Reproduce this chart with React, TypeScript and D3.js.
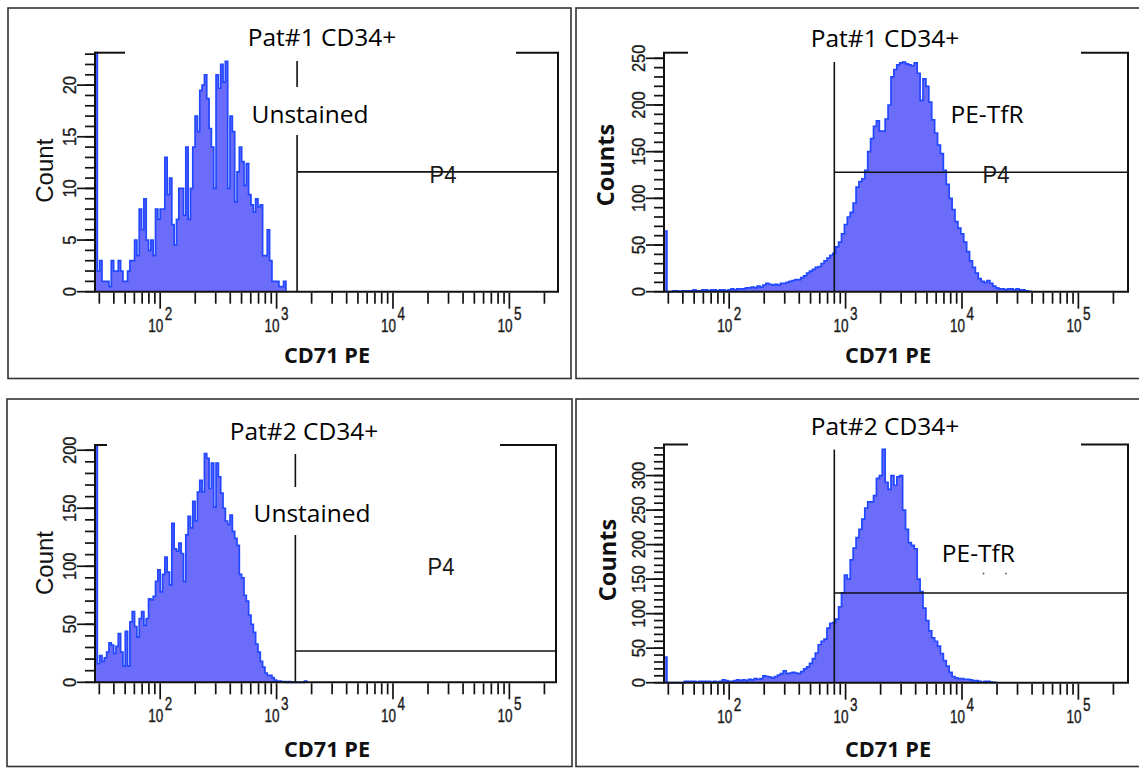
import React from "react";
import * as d3 from "d3";

// ---------- data ----------
const X_EXPONENTS = [2, 3, 4, 5];
const X_MANTISSAS = [1, 2, 3, 4, 5, 6, 7, 8, 9];
const X_DECADES = [1, 2, 3, 4, 5];
const LOG_START = 1.44; // log10 of the axis minimum
const PX_PER_DECADE = 116.4;

const P1_BIN = 0.02;
const P1_COUNTS = [40, 2, 3, 1, 1, 1, 0.5, 3, 2, 2, 3, 2, 1, 1, 2, 3, 3, 5, 3.5, 8, 6, 9, 5, 4, 5, 3.5, 8, 7, 8, 8, 13, 9.4, 11, 6.5, 4.5, 7, 10, 10, 7.4, 14, 7, 10, 14, 17, 15.5, 19.5, 20, 21, 18.7, 15.8, 14, 10, 21, 19.7, 22, 20.3, 22.3, 10, 17, 15.5, 8.7, 11.6, 14, 12.6, 10.3, 12.4, 9.4, 8.4, 7.7, 9, 8.2, 8.4, 3.5, 3.5, 6, 3, 1, 1, 1, 0.5, 0.5, 1];

const P2_BIN = 0.025;
const P2_COUNTS = [65, 0, 0, 1, 1, 0, 1, 1, 1, 1, 2, 1, 1, 2, 2, 1, 2, 2, 1, 2, 2, 1, 2, 3, 2, 3, 3, 3, 4, 4, 5, 4, 6, 5, 7, 9, 8, 7, 8, 7, 9, 9, 10, 11, 12, 13, 13, 15, 17, 20, 22, 24, 26, 27, 30, 33, 36, 39, 41, 48, 53, 62, 72, 80, 85, 95, 112, 118, 121, 130, 150, 164, 177, 183, 172, 172, 185, 200, 230, 238, 243, 245, 246, 244, 243, 242, 245, 234, 205, 228, 220, 203, 184, 170, 157, 148, 130, 115, 100, 88, 75, 68, 62, 53, 43, 33, 26, 20, 14, 11, 10, 12, 9, 6, 4, 3, 3, 2, 3, 3, 2, 3, 2, 2, 1, 0.5];

const P3_BIN = 0.02;
const P3_COUNTS = [300, 16, 23, 18, 21, 26, 34, 32, 25, 31, 42, 26, 14, 44, 14, 52, 61, 48, 39, 55, 61, 49, 55, 72, 71, 74, 87, 97, 78, 93, 108, 95, 84, 137, 115, 113, 120, 111, 87, 127, 143, 133, 156, 139, 164, 174, 164, 197, 193, 167, 189, 151, 189, 177, 163, 150, 139, 136, 144, 130, 124, 118, 93, 90, 75, 70, 58, 50, 43, 33, 26, 18, 13, 8, 6, 6, 4, 2, 1, 1, 0.5, 0.5, 0, 0.5, 0, 0, 0, 0, 0, 0, 1];

const P4_BIN = 0.025;
const P4_COUNTS = [37, 0, 0, 0, 0, 0, 0, 2, 2, 2, 2, 1, 2, 2, 2, 2, 1, 2, 1, 2, 4, 3, 2, 2, 3, 4, 3, 4, 3, 5, 4, 6, 5, 6, 10, 9, 8, 7, 9, 11, 13, 17, 13, 14, 15, 14, 13, 16, 20, 23, 28, 35, 43, 55, 60, 63, 79, 86, 87, 92, 110, 130, 156, 150, 178, 195, 210, 222, 237, 253, 262, 262, 271, 296, 300, 338, 290, 280, 300, 286, 298, 300, 250, 222, 203, 199, 194, 150, 132, 108, 90, 75, 65, 60, 53, 42, 32, 24, 15, 9, 7, 6, 6, 5, 5, 4, 3, 3, 2, 1, 2, 2, 1, 0.5];

const P1_Y_MAJOR = [0, 5, 10, 15, 20];
const P2_Y_MAJOR = [0, 50, 100, 150, 200, 250];
const P3_Y_MAJOR = [0, 50, 100, 150, 200];
const P4_Y_MAJOR = [0, 50, 100, 150, 200, 250, 300];

const TITLES = ["Pat#1 CD34+", "Pat#1 CD34+", "Pat#2 CD34+", "Pat#2 CD34+"];
const Y_LABELS = ["Count", "Counts", "Count", "Counts"];
const X_LABEL = "CD71 PE";
const SAMPLE_LABELS = ["Unstained", "PE-TfR", "Unstained", "PE-TfR"];
const GATE_NAME = "P4";
const GATE_X = [1500, 800, 1450, 800];
const GATE_Y = [11.6, 128, 27, 130];

// ---------- layout ----------
type Spec = {
  box: [number, number, number, number];
  left: number; right: number; top: number; bottom: number;
  yMax: number; yMajor: number[]; yMinorStep: number; yMinorMax: number;
  counts: number[]; binW: number;
  title: string; titleX: number; titleY: number;
  yLabel: string; yBold: boolean; yLabelX: number; yLabelY: number;
  xLabelX: number; xLabelY: number;
  bracketL: number; bracketR: number;
  gateX: number; gateY: number; gateTop: number; gateGap: [number, number] | null;
  sample: string; sampleX: number; sampleY: number;
  p4: [number, number] | null;
  dots: [number, number][];
};

const SPECS: Spec[] = [
  {
    box: [8, 8, 571, 378.5], left: 95, right: 558, top: 52.7, bottom: 291.7,
    yMax: 23.14, yMajor: P1_Y_MAJOR, yMinorStep: 1, yMinorMax: 23,
    counts: P1_COUNTS, binW: P1_BIN,
    title: TITLES[0], titleX: 322, titleY: 45.7,
    yLabel: Y_LABELS[0], yBold: false, yLabelX: 52.7, yLabelY: 170.7,
    xLabelX: 327, xLabelY: 363.3, bracketL: 125, bracketR: 516,
    gateX: GATE_X[0], gateY: GATE_Y[0], gateTop: 61, gateGap: [87, 135],
    sample: SAMPLE_LABELS[0], sampleX: 310, sampleY: 123.3,
    p4: [443, 183.3], dots: [],
  },
  {
    box: [576, 8, 1142, 378.5], left: 664, right: 1128, top: 52.7, bottom: 291.7,
    yMax: 256, yMajor: P2_Y_MAJOR, yMinorStep: 10, yMinorMax: 250,
    counts: P2_COUNTS, binW: P2_BIN,
    title: TITLES[1], titleX: 885, titleY: 46.7,
    yLabel: Y_LABELS[1], yBold: true, yLabelX: 613.6, yLabelY: 165,
    xLabelX: 888, xLabelY: 363, bracketL: 688, bracketR: 1081,
    gateX: GATE_X[1], gateY: GATE_Y[1], gateTop: 62, gateGap: null,
    sample: SAMPLE_LABELS[1], sampleX: 987, sampleY: 122.7,
    p4: [996, 183], dots: [],
  },
  {
    box: [7, 399, 572, 766.5], left: 95, right: 556, top: 445, bottom: 682.3,
    yMax: 204.5, yMajor: P3_Y_MAJOR, yMinorStep: 10, yMinorMax: 200,
    counts: P3_COUNTS, binW: P3_BIN,
    title: TITLES[2], titleX: 304, titleY: 440,
    yLabel: Y_LABELS[2], yBold: false, yLabelX: 52.7, yLabelY: 563,
    xLabelX: 327, xLabelY: 756.7, bracketL: 107, bracketR: 500,
    gateX: GATE_X[2], gateY: GATE_Y[2], gateTop: 454, gateGap: [487, 535],
    sample: SAMPLE_LABELS[2], sampleX: 312, sampleY: 522.3,
    p4: [441, 575], dots: [],
  },
  {
    box: [576, 399, 1142, 766.5], left: 664, right: 1128, top: 444.5, bottom: 682.7,
    yMax: 345, yMajor: P4_Y_MAJOR, yMinorStep: 10, yMinorMax: 340,
    counts: P4_COUNTS, binW: P4_BIN,
    title: TITLES[3], titleX: 885, titleY: 435,
    yLabel: Y_LABELS[3], yBold: true, yLabelX: 615.5, yLabelY: 560,
    xLabelX: 888, xLabelY: 756.7, bracketL: 688, bracketR: 1081,
    gateX: GATE_X[3], gateY: GATE_Y[3], gateTop: 449.5, gateGap: null,
    sample: SAMPLE_LABELS[3], sampleX: 978.4, sampleY: 562.3,
    p4: null, dots: [[983.5, 573.5], [1006, 573.5]],
  },
];

const FILL = "#6c6cfa";
const STROKE = "#2147ff";
const INK = "#111";
const HUMAN = "'Open Sans', 'Noto Sans', sans-serif";
const PIXEL = "'Liberation Sans', Arial, sans-serif";

function Panel({ s }: { s: Spec }) {
  const xs = d3
    .scaleLog()
    .domain([10 ** LOG_START, 10 ** (LOG_START + (s.right - s.left) / PX_PER_DECADE)])
    .range([s.left, s.right]);
  const ys = d3.scaleLinear().domain([0, s.yMax]).range([s.bottom, s.top]);

  type B = { x: number; v: number };
  const bins: B[] = s.counts.map((c, i) => ({ x: 10 ** (LOG_START + i * s.binW), v: Math.min(c, s.yMax) }));
  bins.push({ x: 10 ** (LOG_START + s.counts.length * s.binW), v: 0 });
  const withStart: B[] = [{ x: bins[0].x, v: 0 }, ...bins];

  const area = d3
    .area<B>()
    .x((d) => xs(d.x))
    .y0(s.bottom)
    .y1((d) => ys(d.v))
    .curve(d3.curveStepAfter);
  const line = d3
    .line<B>()
    .x((d) => xs(d.x))
    .y((d) => ys(d.v))
    .curve(d3.curveStepAfter);

  const [dmin, dmax] = xs.domain();
  const xTicks: { v: number; major: boolean }[] = [];
  X_DECADES.forEach((d) =>
    X_MANTISSAS.forEach((m) => {
      const v = m * 10 ** d;
      if (v >= dmin && v <= dmax) xTicks.push({ v, major: m === 1 });
    })
  );
  const yMinor = d3.range(0, s.yMinorMax + 1e-6, s.yMinorStep);

  const gx = xs(s.gateX);
  const gy = ys(s.gateY);
  const [bx0, by0, bx1, by1] = s.box;

  return (
    <g>
      <rect x={bx0} y={by0} width={bx1 - bx0} height={by1 - by0} fill="none" stroke="#333" strokeWidth={1.6} />
      <path d={area(bins) || ""} fill={FILL} />
      <path d={line(withStart) || ""} fill="none" stroke={STROKE} strokeWidth={1.7} strokeLinejoin="miter" />

      {/* y ticks */}
      {yMinor.map((v) => (
        <line key={"ym" + v} x1={s.left - 10} x2={s.left} y1={ys(v)} y2={ys(v)} stroke={INK} strokeWidth={1.7} />
      ))}
      {s.yMajor.map((v) => (
        <g key={"yM" + v}>
          <line x1={s.left - 18} x2={s.left} y1={ys(v)} y2={ys(v)} stroke={INK} strokeWidth={1.7} />
          <text
            transform={`translate(${s.left - 19},${ys(v)}) rotate(-90) scale(1,1.1)`}
            textAnchor="middle"
            fontFamily={PIXEL}
            fontSize={16.5}
            fill="#1c1c1c"
            stroke="#1c1c1c"
            strokeWidth={0.3}
          >
            {v}
          </text>
        </g>
      ))}

      {/* x ticks */}
      {xTicks.map((t) => (
        <line
          key={"xt" + t.v}
          x1={xs(t.v)}
          x2={xs(t.v)}
          y1={s.bottom + 1}
          y2={s.bottom + (t.major ? 17 : 12)}
          stroke={INK}
          strokeWidth={1.7}
        />
      ))}
      {X_EXPONENTS.map((e) => (
        <text
          key={"xl" + e}
          transform={`translate(${xs(10 ** e)},${s.bottom + 40}) scale(1,1.4)`}
          textAnchor="middle"
          fontFamily={PIXEL}
          fontSize={13.5}
          fill="#1c1c1c"
          stroke="#1c1c1c"
          strokeWidth={0.3}
        >
          10
          <tspan dx={1.5} dy={-8.5}>
            {e}
          </tspan>
        </text>
      ))}

      {/* frame */}
      <line x1={s.left} x2={s.left} y1={s.top} y2={s.bottom} stroke={INK} strokeWidth={2} />
      <line x1={s.left - 1} x2={s.right + 1} y1={s.bottom} y2={s.bottom} stroke={INK} strokeWidth={2} />
      <line x1={s.left - 1} x2={s.bracketL} y1={s.top} y2={s.top} stroke={INK} strokeWidth={2} />
      <line x1={s.bracketR} x2={s.right + 1} y1={s.top} y2={s.top} stroke={INK} strokeWidth={2} />
      <line x1={s.right} x2={s.right} y1={s.top} y2={s.bottom} stroke={INK} strokeWidth={2} />

      {/* gate */}
      {s.gateGap ? (
        <>
          <line x1={gx} x2={gx} y1={s.gateTop} y2={s.gateGap[0]} stroke={INK} strokeWidth={1.6} />
          <line x1={gx} x2={gx} y1={s.gateGap[1]} y2={s.bottom} stroke={INK} strokeWidth={1.6} />
        </>
      ) : (
        <line x1={gx} x2={gx} y1={s.gateTop} y2={s.bottom} stroke={INK} strokeWidth={1.6} />
      )}
      <line x1={gx} x2={s.right} y1={gy} y2={gy} stroke={INK} strokeWidth={1.6} />
      {s.p4 && (
        <text
          transform={`translate(${s.p4[0]},${s.p4[1]}) scale(1,1.08)`}
          textAnchor="middle"
          fontFamily={PIXEL}
          fontSize={22}
          fill="#1a1a1a"
        >
          {GATE_NAME}
        </text>
      )}
      {s.dots.map(([x, y], i) => (
        <rect key={"d" + i} x={x - 0.8} y={y - 0.8} width={1.6} height={1.6} fill="#555" />
      ))}

      {/* texts */}
      <text x={s.titleX} y={s.titleY} textAnchor="middle" fontFamily={HUMAN} fontSize={24.5} fill="#000">
        {s.title}
      </text>
      <text x={s.sampleX} y={s.sampleY} textAnchor="middle" fontFamily={HUMAN} fontSize={24.5} fill="#000">
        {s.sample}
      </text>
      <text
        transform={`translate(${s.yLabelX},${s.yLabelY}) rotate(-90)`}
        textAnchor="middle"
        fontFamily={s.yBold ? HUMAN : PIXEL}
        fontWeight={s.yBold ? 700 : 400}
        fontSize={s.yBold ? 23.5 : 24}
        fill="#111"
      >
        {s.yLabel}
      </text>
      <text
        x={s.xLabelX}
        y={s.xLabelY}
        textAnchor="middle"
        fontFamily={HUMAN}
        fontWeight={700}
        fontSize={21.7}
        fill="#111"
      >
        {X_LABEL}
      </text>
    </g>
  );
}

export default function App() {
  return (
    <svg
      width={1139}
      height={768}
      viewBox="0 0 1139 768"
      style={{ position: "absolute", left: 0, top: 0, background: "#fff" }}
    >
      <rect x={0} y={0} width={1139} height={768} fill="#fff" />
      {SPECS.map((s, i) => (
        <Panel key={i} s={s} />
      ))}
    </svg>
  );
}
